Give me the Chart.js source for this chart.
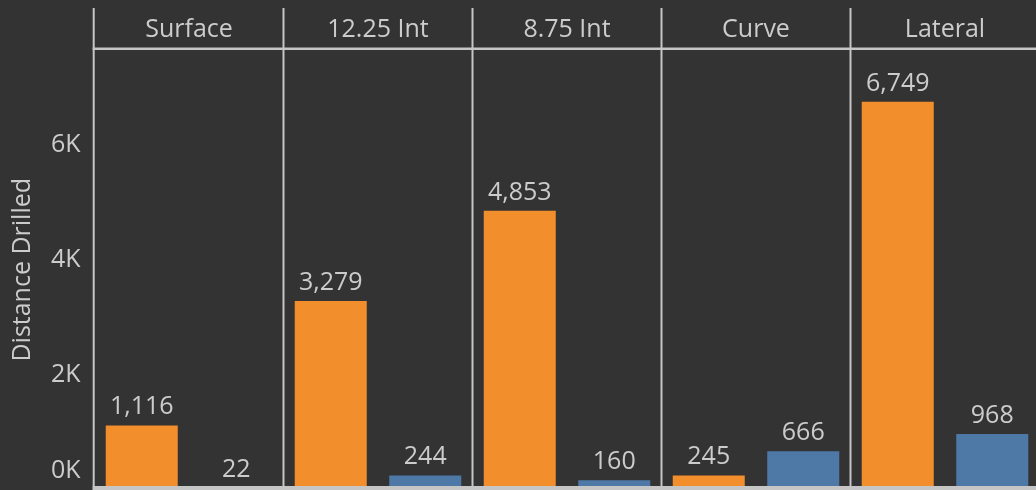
<!DOCTYPE html>
<html>
<head>
<meta charset="utf-8">
<script src="https://cdn.jsdelivr.net/npm/chart.js@4/dist/chart.umd.min.js"></script>
<style>
  html, body { margin: 0; padding: 0; background: #333333; overflow: hidden; }
  #wrap { width: 1036px; height: 490px; overflow: hidden; position: relative; background: #333333; }
  canvas { display: block; }
</style>
</head>
<body>
<div id="wrap"><canvas id="c" width="1044" height="490" style="width:1044px;height:490px"></canvas></div>
<script>
// ---- data ----
const categories = ['Surface', '12.25 Int', '8.75 Int', 'Curve', 'Lateral'];
const seriesOrange = [1116, 3279, 4853, 245, 6749];
const seriesBlue = [22, 244, 160, 666, 968];
const yTickValues = [0, 2000, 4000, 6000];
const yTickLabels = ['0K', '2K', '4K', '6K'];
const yTitle = 'Distance Drilled';

const TEXT = '#cccccc';
const LINE = '#c6c6c6';
const FONT = "'Open Sans', 'Noto Sans', sans-serif";

const framePlugin = {
  id: 'frame',
  afterDatasetsDraw(chart) {
    const ctx = chart.ctx;
    ctx.save();
    ctx.fillStyle = TEXT;
    ctx.font = "25px " + FONT;
    ctx.textAlign = 'center';
    ctx.textBaseline = 'alphabetic';
    chart.data.datasets.forEach((ds, di) => {
      chart.getDatasetMeta(di).data.forEach((bar, i) => {
        ctx.fillText(ds.data[i].toLocaleString('en-US'), bar.x, bar.y - 11);
      });
    });
    ctx.restore();
  },
  afterDraw(chart) {
    const ctx = chart.ctx;
    const x = chart.scales.x;
    const area = chart.chartArea;
    ctx.save();
    ctx.strokeStyle = LINE;
    ctx.fillStyle = LINE;
    ctx.lineWidth = 2;
    ctx.beginPath();
    ctx.moveTo(area.left - 0.8, 8);
    ctx.lineTo(area.left - 0.8, chart.height);
    ctx.stroke();
    for (let i = 0; i < categories.length - 1; i++) {
      const px = (x.getPixelForValue(i) + x.getPixelForValue(i + 1)) / 2;
      ctx.beginPath();
      ctx.moveTo(px, 8);
      ctx.lineTo(px, chart.height);
      ctx.stroke();
    }
    ctx.fillRect(area.left - 1.8, area.top - 2.5, chart.width, 2.5);
    ctx.fillRect(area.left - 1.8, area.bottom - 3.5, chart.width, 10);
    ctx.restore();
  }
};

new Chart(document.getElementById('c'), {
  type: 'bar',
  data: {
    labels: categories,
    datasets: [
      { data: seriesOrange, backgroundColor: '#F28E2B', barPercentage: 0.762, categoryPercentage: 1.0 },
      { data: seriesBlue, backgroundColor: '#4E79A7', barPercentage: 0.762, categoryPercentage: 1.0 }
    ]
  },
  options: {
    responsive: false,
    maintainAspectRatio: false,
    devicePixelRatio: 1,
    animation: false,
    layout: { padding: { left: 0, right: 4.5, top: 0, bottom: 0.5 } },
    plugins: { legend: { display: false }, tooltip: { enabled: false } },
    scales: {
      x: {
        position: 'top',
        grid: { display: false, drawTicks: false },
        border: { display: false },
        ticks: { color: TEXT, font: { family: FONT, size: 25 }, padding: 5, maxRotation: 0, autoSkip: false },
        afterFit(s) { s.height = 50; s.paddingLeft = 0; s.paddingRight = 0; }
      },
      y: {
        min: 0,
        max: 7650,
        afterBuildTicks(s) { s.ticks = yTickValues.map(v => ({ value: v })); },
        grid: { display: false, drawTicks: false },
        border: { display: false },
        ticks: {
          color: TEXT,
          font: { family: FONT, size: 25, lineHeight: 1.5 },
          padding: 14,
          callback(v) {
            const i = yTickValues.indexOf(v);
            const lab = i >= 0 ? yTickLabels[i] : '';
            return v === 0 ? [lab, ''] : lab;
          }
        },
        title: {
          display: true,
          text: yTitle,
          color: TEXT,
          font: { family: FONT, size: 25 },
          padding: { top: 8, bottom: 0 }
        },
        afterFit(s) { s.width = 94.5; s.paddingTop = 0; s.paddingBottom = 0; }
      }
    }
  },
  plugins: [framePlugin]
});
</script>
</body>
</html>
